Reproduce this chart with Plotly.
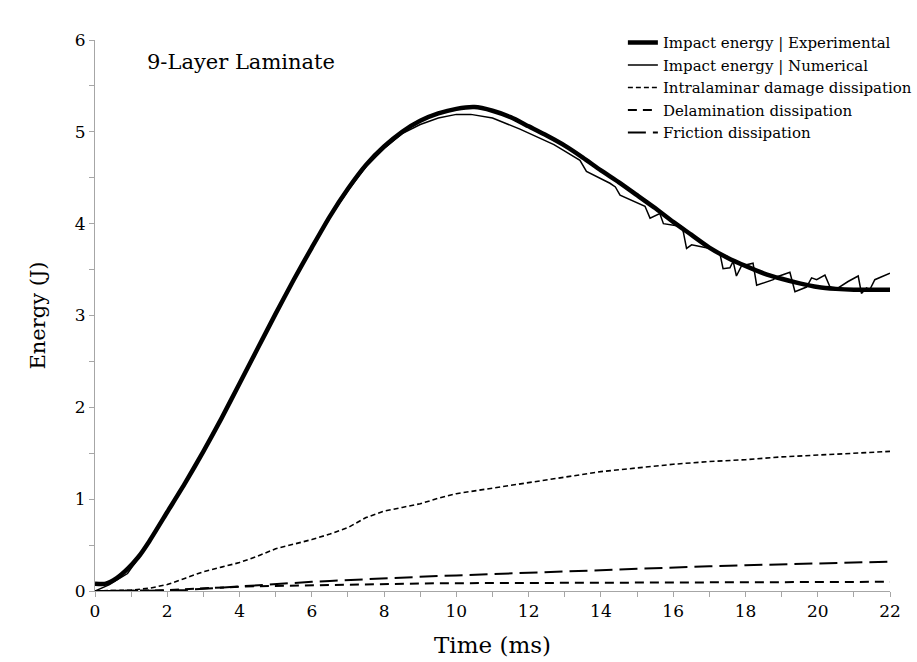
import plotly.graph_objects as go

# Impact energy, experimental (J) vs time (ms)
t_exp = [0, 0.3, 0.6, 0.9, 1.2, 1.5, 2, 2.5, 3, 3.5, 4, 4.5, 5, 5.5, 6, 6.5, 7, 7.5,
         8, 8.5, 9, 9.5, 10, 10.5, 11, 11.5, 12, 12.5, 13, 13.5, 14, 14.5, 15, 15.5,
         16, 16.5, 17, 17.5, 18, 18.5, 19, 19.5, 20, 20.5, 21, 21.5, 22]
e_exp = [0.08, 0.08, 0.14, 0.24, 0.37, 0.54, 0.86, 1.18, 1.52, 1.88, 2.26, 2.64, 3.02,
         3.39, 3.74, 4.08, 4.38, 4.64, 4.84, 5.0, 5.12, 5.2, 5.25, 5.27, 5.23, 5.16,
         5.06, 4.96, 4.85, 4.72, 4.58, 4.45, 4.31, 4.17, 4.02, 3.88, 3.74, 3.63, 3.54,
         3.46, 3.4, 3.35, 3.31, 3.29, 3.28, 3.28, 3.28]

# Impact energy, numerical
t_num = [0, 0.4, 0.9, 1.1, 1.5, 2, 2.5, 3, 3.5, 4, 4.3, 4.5, 5, 5.5, 6, 6.5, 7, 7.5,
         8, 8.5, 9, 9.5, 10, 10.4, 11, 11.76, 12.3, 12.7, 13.0, 13.42, 13.6, 14.25,
         14.4, 14.53, 15.22, 15.36, 15.63, 15.73, 16.23, 16.28, 16.37, 16.51, 17.02,
         17.29, 17.38, 17.57, 17.66, 17.75, 17.89, 18.21, 18.31, 18.77, 18.86, 19.23,
         19.37, 19.69, 19.83, 19.97, 20.2, 20.34, 20.48, 20.84, 21.12, 21.21, 21.35,
         21.44, 21.58, 21.81, 22]
e_num = [0.0, 0.07, 0.19, 0.3, 0.54, 0.86, 1.18, 1.52, 1.88, 2.26, 2.47, 2.63, 3.02,
         3.39, 3.74, 4.07, 4.36, 4.62, 4.82, 4.98, 5.08, 5.15, 5.19, 5.19, 5.15, 5.03,
         4.93, 4.86, 4.79, 4.69, 4.57, 4.44, 4.4, 4.31, 4.19, 4.06, 4.11, 4.0, 3.97,
         3.91, 3.73, 3.77, 3.73, 3.68, 3.51, 3.52, 3.59, 3.43, 3.54, 3.57, 3.33, 3.39,
         3.42, 3.47, 3.26, 3.31, 3.41, 3.39, 3.44, 3.31, 3.28, 3.37, 3.43, 3.24, 3.3,
         3.28, 3.39, 3.43, 3.46]

# Dissipated energies
t_dis = [0, 1, 1.5, 2, 2.5, 3, 3.5, 4, 4.5, 5, 5.5, 6, 6.5, 7, 7.5, 8, 8.5, 9, 9.5,
         10, 11, 12, 13, 14, 15, 16, 17, 18, 19, 20, 21, 22]
e_intra = [0, 0.01, 0.03, 0.07, 0.14, 0.21, 0.26, 0.31, 0.38, 0.46, 0.51, 0.56, 0.62,
           0.69, 0.8, 0.87, 0.91, 0.95, 1.01, 1.06, 1.12, 1.18, 1.24, 1.3, 1.34,
           1.38, 1.41, 1.43, 1.46, 1.48, 1.5, 1.52]
e_delam = [0, 0, 0.005, 0.01, 0.02, 0.035, 0.042, 0.047, 0.052, 0.056, 0.058, 0.06,
           0.064, 0.068, 0.072, 0.075, 0.078, 0.081, 0.084, 0.085, 0.087, 0.089,
           0.09, 0.092, 0.093, 0.094, 0.095, 0.096, 0.097, 0.098, 0.099, 0.1]
e_fric = [0, 0, 0, 0.005, 0.012, 0.025, 0.04, 0.055, 0.065, 0.075, 0.087, 0.1, 0.11,
          0.12, 0.13, 0.14, 0.15, 0.157, 0.163, 0.17, 0.185, 0.2, 0.215, 0.23, 0.24,
          0.255, 0.27, 0.28, 0.29, 0.3, 0.31, 0.32]

FONT = "DejaVu Serif"

fig = go.Figure()
fig.add_trace(go.Scatter(x=t_exp, y=e_exp, mode="lines",
                         line_shape="spline", line_smoothing=0.6,
                         name="Impact energy | Experimental",
                         line=dict(color="black", width=4.5)))
fig.add_trace(go.Scatter(x=t_num, y=e_num, mode="lines",
                         name="Impact energy | Numerical",
                         line=dict(color="black", width=1.5)))
fig.add_trace(go.Scatter(x=t_dis, y=e_intra, mode="lines",
                         name="Intralaminar damage dissipation",
                         line=dict(color="black", width=1.6, dash="5px,3px")))
fig.add_trace(go.Scatter(x=t_dis, y=e_delam, mode="lines",
                         name="Delamination dissipation",
                         line=dict(color="black", width=2, dash="9px,6px")))
fig.add_trace(go.Scatter(x=t_dis, y=e_fric, mode="lines",
                         name="Friction dissipation",
                         line=dict(color="black", width=2, dash="18px,7px")))

axis_common = dict(showgrid=False, zeroline=False, showline=True, linecolor="#a6a6a6",
                   linewidth=1, ticks="outside", tickcolor="#a6a6a6", ticklen=5,
                   tickfont=dict(family=FONT, size=17, color="black"))

fig.update_xaxes(range=[0, 22], dtick=2, tick0=0,
                 title=dict(text="Time (ms)", font=dict(family=FONT, size=23, color="black"),
                            standoff=16),
                 minor=dict(dtick=1, ticks="outside", ticklen=5, tickcolor="#a6a6a6"),
                 **axis_common)
fig.update_yaxes(range=[0, 6], dtick=1, tick0=0,
                 title=dict(text="Energy (J)", font=dict(family=FONT, size=21, color="black"),
                            standoff=23),
                 minor=dict(dtick=0.5, ticks="outside", ticklen=5, tickcolor="#a6a6a6"),
                 **axis_common)

fig.add_annotation(text="9-Layer Laminate", xref="paper", yref="paper",
                   x=0.063, y=0.96, xanchor="left", yanchor="middle", showarrow=False,
                   font=dict(family=FONT, size=21, color="black"))

fig.update_layout(
    width=917, height=662,
    margin=dict(l=95, r=27, t=40, b=71, autoexpand=False),
    plot_bgcolor="white", paper_bgcolor="white",
    font=dict(family=FONT, color="black"),
    showlegend=True,
    legend=dict(x=0.664, y=1.025, xanchor="left", yanchor="top",
                font=dict(family=FONT, size=15, color="black"),
                bgcolor="rgba(0,0,0,0)", tracegroupgap=0, itemwidth=30),
)

fig.write_html("out.html")
